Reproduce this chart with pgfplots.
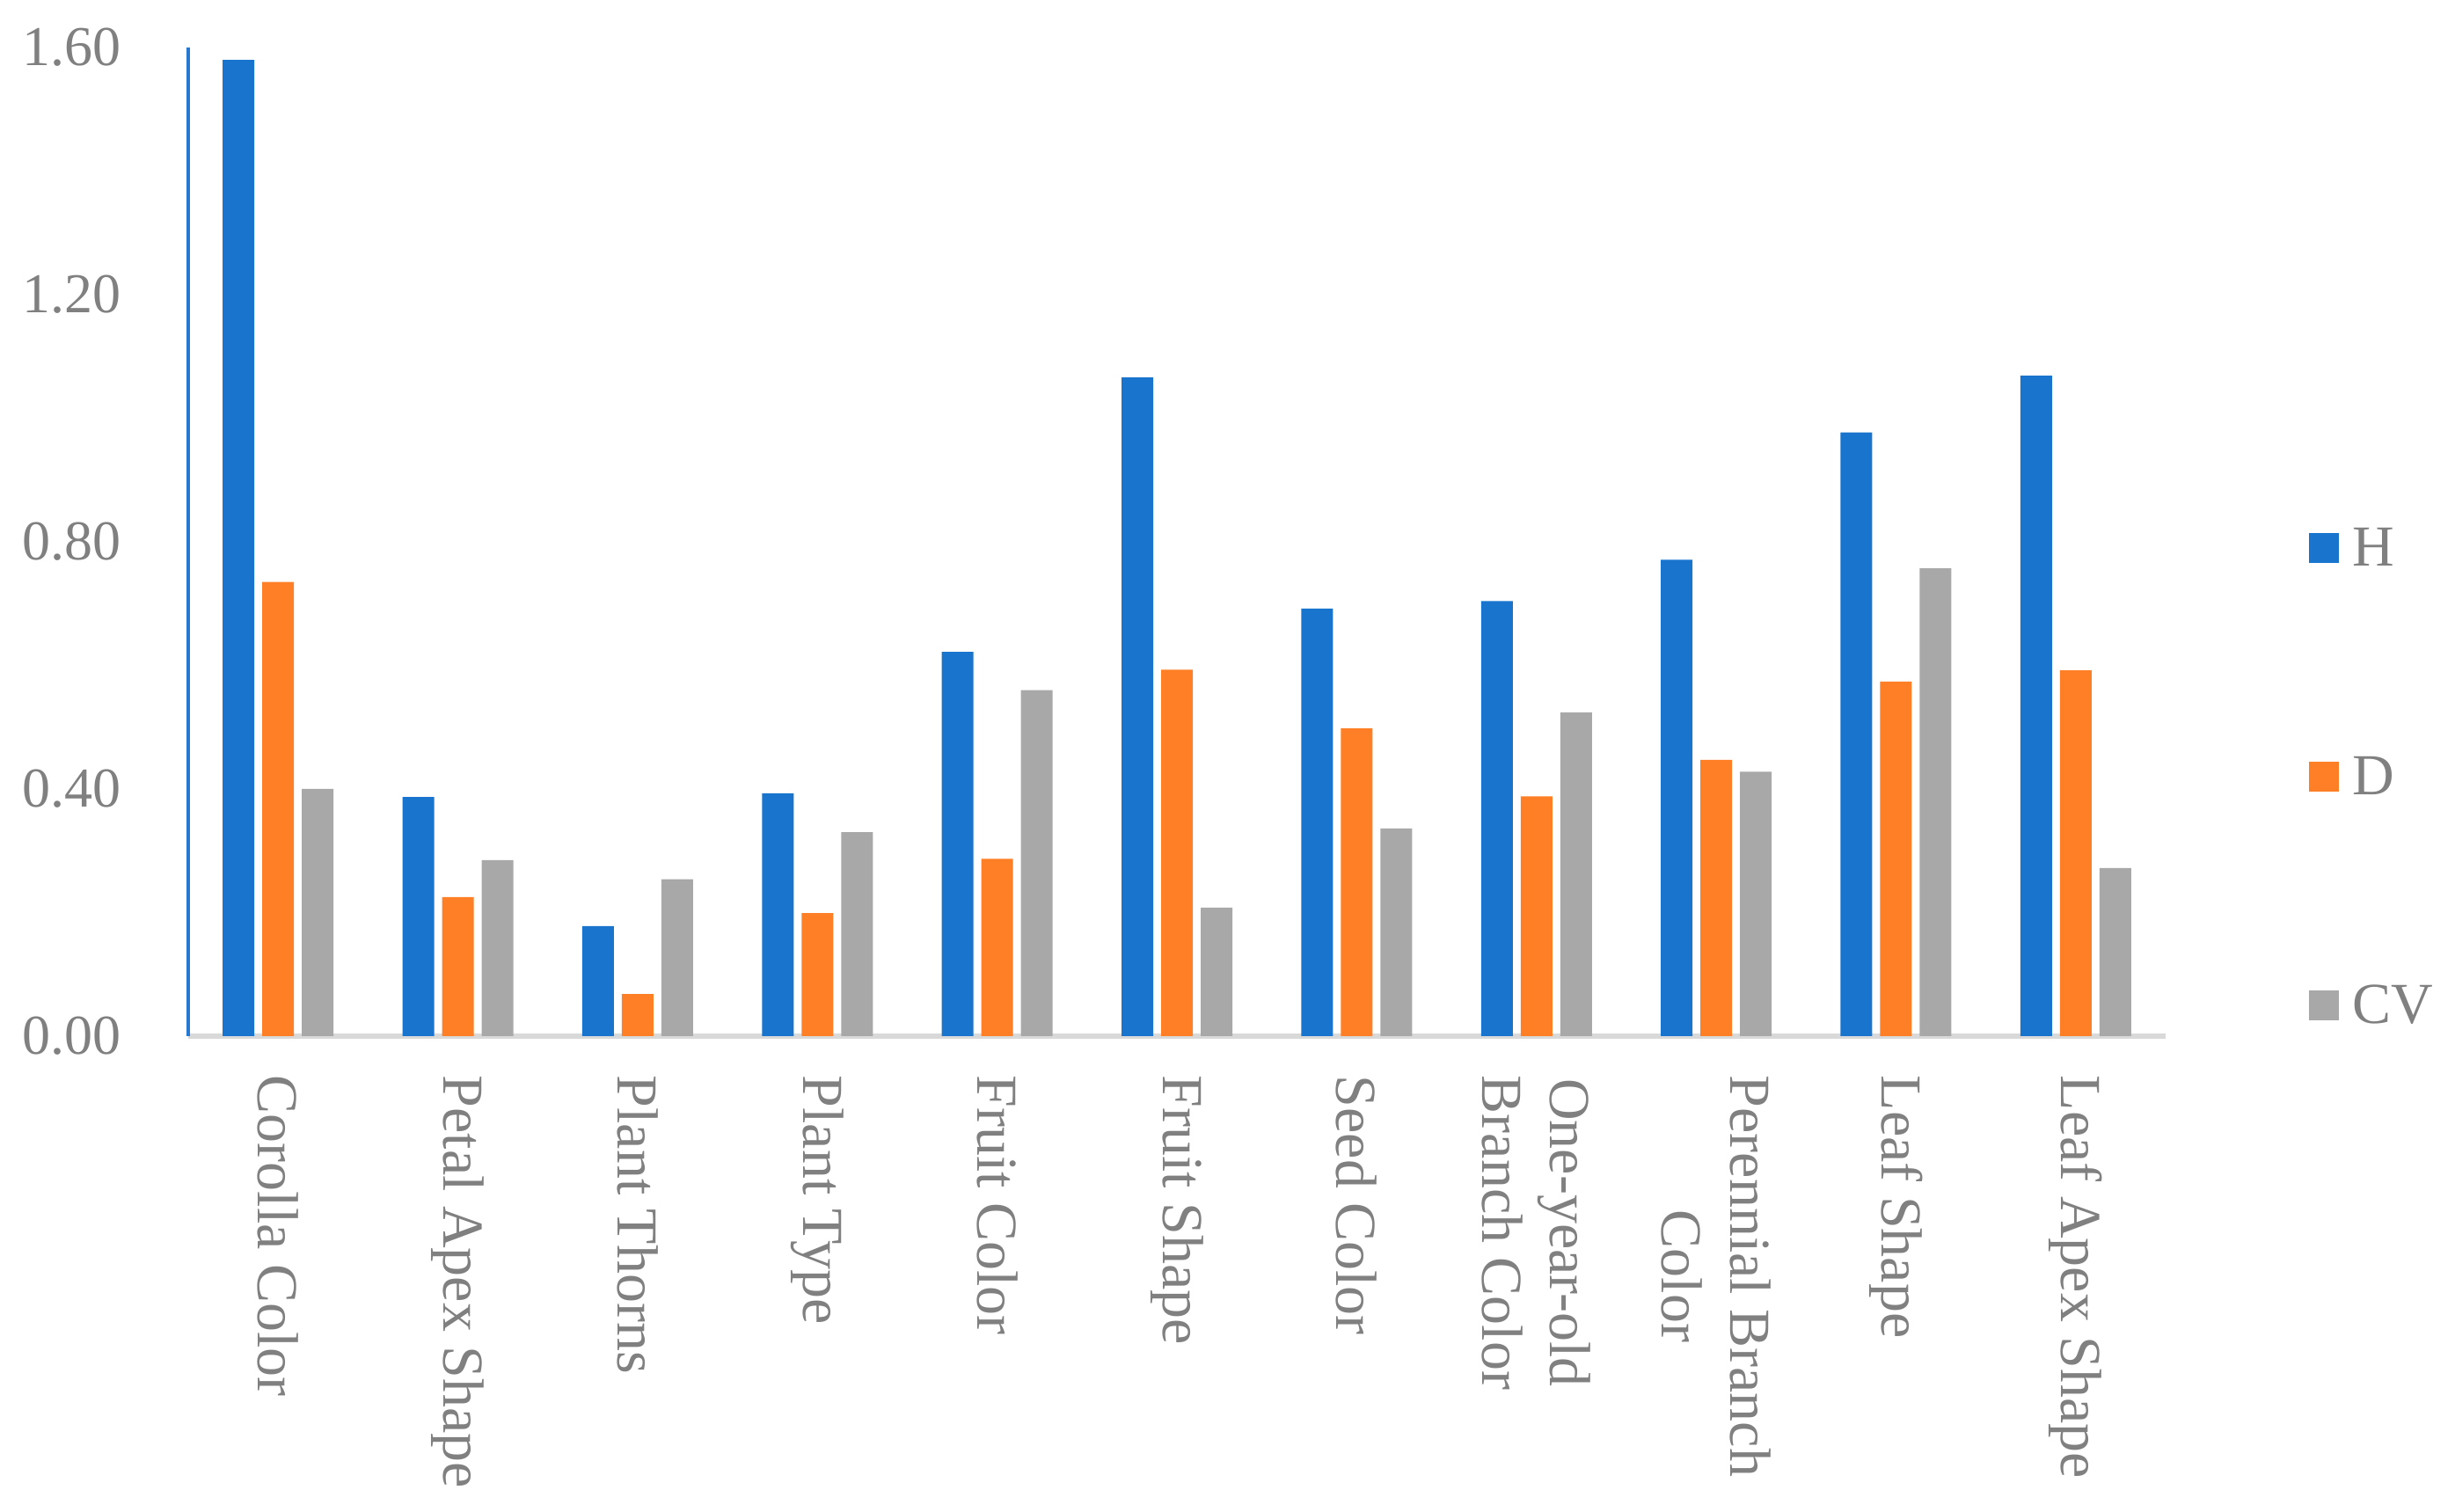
\documentclass[border=0pt]{standalone}
\usepackage{pgfplots}
\pgfplotsset{compat=1.18}
\usepackage{fontspec}
\setmainfont{Liberation Serif}
\definecolor{cH}{RGB}{24,116,205}
\definecolor{cD}{RGB}{255,127,39}
\definecolor{cCV}{RGB}{168,168,168}
\definecolor{txt}{RGB}{128,128,128}
\definecolor{baseln}{RGB}{217,217,217}
\definecolor{yax}{RGB}{40,120,210}
\begin{document}
\begin{tikzpicture}
\useasboundingbox (-53.5pt,-135.25pt) rectangle (644.25pt,294.5pt);
\begin{axis}[
  scale only axis, width=562pt, height=281pt,
  xmin=-0.5, xmax=10.5, ymin=0, ymax=1.6,
  ybar=2.25pt, bar width=9pt,
  axis lines*=left,
  x axis line style={baseln, line width=1.5pt},
  y axis line style={yax, line width=1.2pt},
  major tick length=0pt,
  ytick={0,0.4,0.8,1.2,1.6},
  /pgf/number format/assume math mode=true,
  yticklabel style={/pgf/number format/.cd, fixed, fixed zerofill, precision=2, /tikz/.cd,
     font=\fontsize{16}{19}\selectfont, text=txt, inner sep=0pt, anchor=east, xshift=-19pt},
  xtick={0,1,2,3,4,5,6,7,8,9,10},
  xticklabels={Corolla Color, Petal Apex Shape, Plant Thorns, Plant Type, Fruit Color, Fruit Shape, Seed Color, {One-year-old\\Branch Color}, {Perennial Branch\\Color}, Leaf Shape, Leaf Apex Shape},
  xticklabel style={rotate=-90, anchor=west, align=center, inner xsep=11pt, inner ysep=0pt,
     text=txt, font=\fontsize{16.5}{19.3}\selectfont},
  legend style={at={(1.0722,0.2607)}, anchor=west, draw=none, fill=none, inner sep=0pt,
     font=\fontsize{16.5}{19.3}\selectfont, text=txt, row sep=52.6pt,
     nodes={inner xsep=3.8pt, inner ysep=0pt}},
  legend cell align=left,
  legend image code/.code={\fill[#1] (0pt,-3.8pt) rectangle (8.5pt,4.7pt);},
]
\addplot[fill=cH, draw=none] coordinates {(0,1.580) (1,0.387) (2,0.178) (3,0.393) (4,0.622) (5,1.066) (6,0.692) (7,0.704) (8,0.771) (9,0.977) (10,1.069)};
\addplot[fill=cD, draw=none] coordinates {(0,0.735) (1,0.225) (2,0.068) (3,0.199) (4,0.287) (5,0.593) (6,0.498) (7,0.388) (8,0.447) (9,0.574) (10,0.592)};
\addplot[fill=cCV, draw=none] coordinates {(0,0.400) (1,0.285) (2,0.254) (3,0.330) (4,0.560) (5,0.208) (6,0.336) (7,0.524) (8,0.428) (9,0.757) (10,0.272)};
\legend{H, D, CV}
\end{axis}
\end{tikzpicture}
\end{document}
